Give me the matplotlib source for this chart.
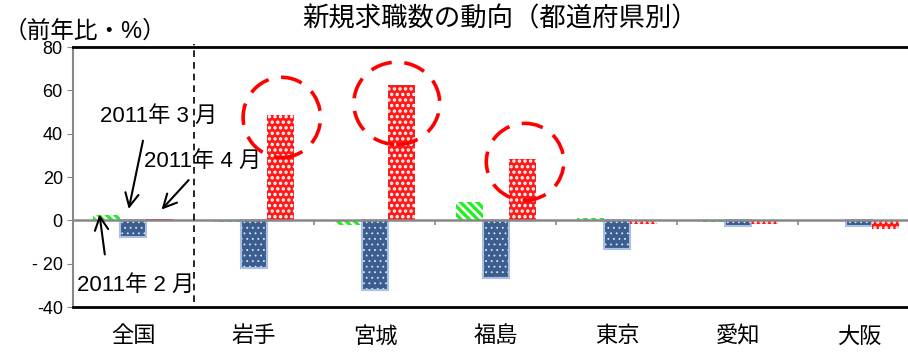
import matplotlib
matplotlib.use("Agg")
import matplotlib.pyplot as plt
from matplotlib.patches import Ellipse
import numpy as np

plt.rcParams['font.family'] = ['Liberation Sans', 'Noto Sans CJK JP', 'DejaVu Sans']

# dati
prefetture = ["全国", "岩手", "宮城", "福島", "東京", "愛知", "大阪"]
feb_2011 = [2.5, -1.0, -2.2, 8.3, 1.0, -1.0, 0.0]
mar_2011 = [-7.6, -22.0, -32.0, -26.5, -13.2, -2.4, -2.7]
apr_2011 = [0.8, 48.8, 62.6, 28.5, -1.7, -1.5, -4.0]
tick_y = [-40, -20, 0, 20, 40, 60, 80]
tick_y_label = ["-40", "- 20", "0", "20", "40", "60", "80"]
# cerchi rossi attorno alle barre di aprile (indice, spostamento x, y, larghezza, altezza)
cerchi = [(1, 0.01, 47.5, 0.64, 37), (2, -0.04, 54, 0.71, 38), (3, 0.02, 27, 0.64, 35.5)]

x = np.arange(len(prefetture))
w = 0.22


def spessore_tratteggio(barre, lw):
    for b in barre:
        if hasattr(b, "set_hatch_linewidth"):
            b.set_hatch_linewidth(lw)


plt.rcParams['hatch.linewidth'] = 2.2
fig = plt.figure(figsize=(9.08, 3.54), dpi=100)
ax = fig.add_axes([72.5 / 908, 1 - 307 / 354, 847 / 908, 260 / 354])

b1 = ax.bar(x - w, feb_2011, w, color="white", edgecolor="#22ee22", hatch="\\\\\\\\", linewidth=0)
spessore_tratteggio(b1, 2.4)
b2 = ax.bar(x, mar_2011, w, color="#3b5d90", edgecolor="#dfe6f0", hatch="...", linewidth=0)
spessore_tratteggio(b2, 0.6)
ax.bar(x, mar_2011, w, fill=False, edgecolor="#aac0e2", linewidth=1.5)
b3 = ax.bar(x + w, apr_2011, w, color="#ff1a1a", edgecolor="white", hatch="...", linewidth=0)
spessore_tratteggio(b3, 1.6)

ax.set_xlim(-0.5, 6.5)
ax.set_ylim(-40, 80)
ax.set_yticks(tick_y)
ax.set_yticklabels(tick_y_label)
ax.set_xticks(x)
ax.set_xticklabels(prefetture, fontsize=16)
ax.tick_params(axis="x", length=0, pad=14)
ax.tick_params(axis="y", length=4, color="#888888", labelsize=13, pad=3)

ax.spines["left"].set_color("#888888")
ax.spines["left"].set_linewidth(1.5)
ax.spines["top"].set_linewidth(2)
ax.spines["bottom"].set_linewidth(2)
ax.spines["right"].set_visible(False)

ax.axhline(0, color="#888888", linewidth=1.8, zorder=3)
ax.vlines(np.arange(1.5, 7, 1), -2, 0, color="#888888", linewidth=1.2, zorder=3)
ax.axvline(0.5, ymin=0.02, ymax=1.01, color="black", linestyle=(0, (4, 3)),
           linewidth=1.2, clip_on=False, zorder=4)

for i, dx, cy, ew, eh in cerchi:
    ax.add_patch(Ellipse((x[i] + w + dx, cy), ew, eh, fill=False, edgecolor="#ff0000",
                         linewidth=2.6, linestyle=(0, (6, 3.5)), zorder=5))

# etichette dei mesi con frecce
freccia = dict(arrowstyle="->", color="black", lw=1.5, mutation_scale=24)
ax.text(-0.27, 48, "2011年 3 月", fontsize=16, va="center")
ax.annotate("", xy=(x[0] - 0.04, 4), xytext=(0.087, 38), arrowprops=freccia)
ax.text(0.087, 27, "2011年 4 月", fontsize=16, va="center")
ax.annotate("", xy=(x[0] + w, 4), xytext=(0.475, 19.5), arrowprops=freccia)
ax.text(-0.46, -30, "2011年 2 月", fontsize=16, va="center")
ax.annotate("", xy=(x[0] - w - 0.06, 4), xytext=(-0.23, -17), arrowprops=freccia)

fig.text(0.551, 1 - 19 / 354, "新規求職数の動向（都道府県別）", fontsize=19, ha="center", va="center")
fig.text(4 / 908, 1 - 31 / 354, "（前年比・%）", fontsize=17, ha="left", va="center")

fig.savefig("out.png", dpi=100)
